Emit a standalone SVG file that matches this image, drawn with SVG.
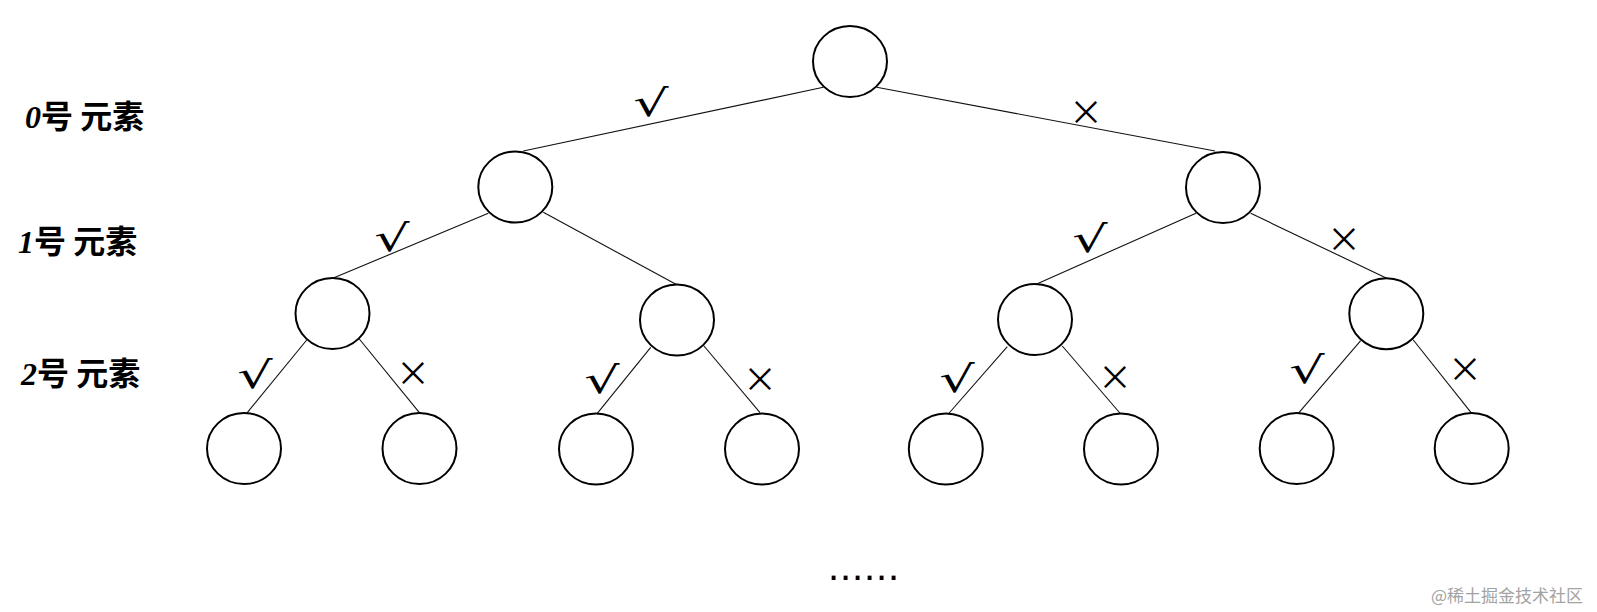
<svg xmlns="http://www.w3.org/2000/svg" width="1597" height="612" viewBox="0 0 1597 612">
<style>
.node{fill:#fff;stroke:#000;stroke-width:2}
.edge{stroke:#111;stroke-width:1.1;fill:none}
.mark{font-family:"Noto Sans CJK SC","DejaVu Sans",sans-serif;font-size:34px;fill:#000;text-anchor:middle;dominant-baseline:central}
.chk{font-family:"DejaVu Sans",sans-serif;font-size:37px;fill:#000;text-anchor:middle}
.lvl{font-family:"Noto Sans CJK SC","Liberation Sans",sans-serif;font-size:32px;font-weight:bold;fill:#000}
.dig{font-family:"Liberation Serif",serif;font-style:italic}
.dots{font-family:"Liberation Sans",sans-serif;font-size:40px;fill:#000;letter-spacing:0.9px}
.wm{font-family:"Noto Sans CJK SC",sans-serif;font-size:17px;fill:#a3a3a3}
</style>
<rect width="1597" height="612" fill="#fff"/>
<g id="connectors">
<line class="edge" x1="823.3" y1="87.3" x2="523.3" y2="151"/>
<line class="edge" x1="876.7" y1="87.3" x2="1215" y2="151"/>
<line class="edge" x1="488.3" y1="213.3" x2="307" y2="289"/>
<line class="edge" x1="543.3" y1="212.3" x2="677.3" y2="285"/>
<line class="edge" x1="1196" y1="213.3" x2="1036.7" y2="284"/>
<line class="edge" x1="1250.7" y1="213.3" x2="1386.7" y2="278.3"/>
<line class="edge" x1="306.7" y1="340" x2="246.7" y2="413.3"/>
<line class="edge" x1="359.3" y1="339" x2="420" y2="413.3"/>
<line class="edge" x1="650.7" y1="347.3" x2="597.3" y2="413.3"/>
<line class="edge" x1="704" y1="346" x2="760" y2="412.7"/>
<line class="edge" x1="1007.3" y1="346.7" x2="948.3" y2="414"/>
<line class="edge" x1="1062.3" y1="346" x2="1120.7" y2="414"/>
<line class="edge" x1="1360.7" y1="340.7" x2="1298.3" y2="413.3"/>
<line class="edge" x1="1413.3" y1="340" x2="1471.7" y2="413.3"/>
</g>
<g id="edge-labels">
<text class="chk" transform="translate(651,101) scale(1.5,1)" y="15">√</text>
<text class="mark" x="1086" y="110">×</text>
<text class="chk" transform="translate(392,236) scale(1.5,1)" y="15">√</text>
<text class="chk" transform="translate(1090,237) scale(1.5,1)" y="15">√</text>
<text class="mark" x="1344" y="237">×</text>
<text class="chk" transform="translate(255,373) scale(1.5,1)" y="15">√</text>
<text class="mark" x="413" y="371">×</text>
<text class="chk" transform="translate(602,378) scale(1.5,1)" y="15">√</text>
<text class="mark" x="760" y="377">×</text>
<text class="chk" transform="translate(957,377) scale(1.5,1)" y="15">√</text>
<text class="mark" x="1115" y="375">×</text>
<text class="chk" transform="translate(1307,368) scale(1.5,1)" y="15">√</text>
<text class="mark" x="1465" y="367">×</text>
</g>
<g id="n0"><ellipse class="node" cx="850" cy="61.5" rx="37" ry="35.5"/></g>
<g id="n1"><ellipse class="node" cx="515.3" cy="187" rx="37" ry="35.5"/></g>
<g id="n2"><ellipse class="node" cx="1223" cy="187.5" rx="37" ry="35.5"/></g>
<g id="n3"><ellipse class="node" cx="332.5" cy="313.5" rx="37" ry="35.5"/></g>
<g id="n4"><ellipse class="node" cx="677" cy="320" rx="37" ry="35.5"/></g>
<g id="n5"><ellipse class="node" cx="1035" cy="319.5" rx="37" ry="35.5"/></g>
<g id="n6"><ellipse class="node" cx="1386.3" cy="313.7" rx="37" ry="35.5"/></g>
<g id="n7"><ellipse class="node" cx="244" cy="448.5" rx="37" ry="35.5"/></g>
<g id="n8"><ellipse class="node" cx="419.5" cy="448.5" rx="37" ry="35.5"/></g>
<g id="n9"><ellipse class="node" cx="596" cy="449" rx="37" ry="35.5"/></g>
<g id="n10"><ellipse class="node" cx="762" cy="449" rx="37" ry="35.5"/></g>
<g id="n11"><ellipse class="node" cx="945.8" cy="449" rx="37" ry="35.5"/></g>
<g id="n12"><ellipse class="node" cx="1121" cy="449" rx="37" ry="35.5"/></g>
<g id="n13"><ellipse class="node" cx="1296.7" cy="448.5" rx="37" ry="35.5"/></g>
<g id="n14"><ellipse class="node" cx="1471.7" cy="448.5" rx="37" ry="35.5"/></g>
<g id="levels">
<text class="lvl" x="25" y="128"><tspan class="dig">0</tspan>号 元素</text>
<text class="lvl" x="18" y="253"><tspan class="dig">1</tspan>号 元素</text>
<text class="lvl" x="21" y="385"><tspan class="dig">2</tspan>号 元素</text>
</g>
<text class="dots" x="828" y="580">......</text>
<text class="wm" x="1431" y="602">@稀土掘金技术社区</text>
</svg>
